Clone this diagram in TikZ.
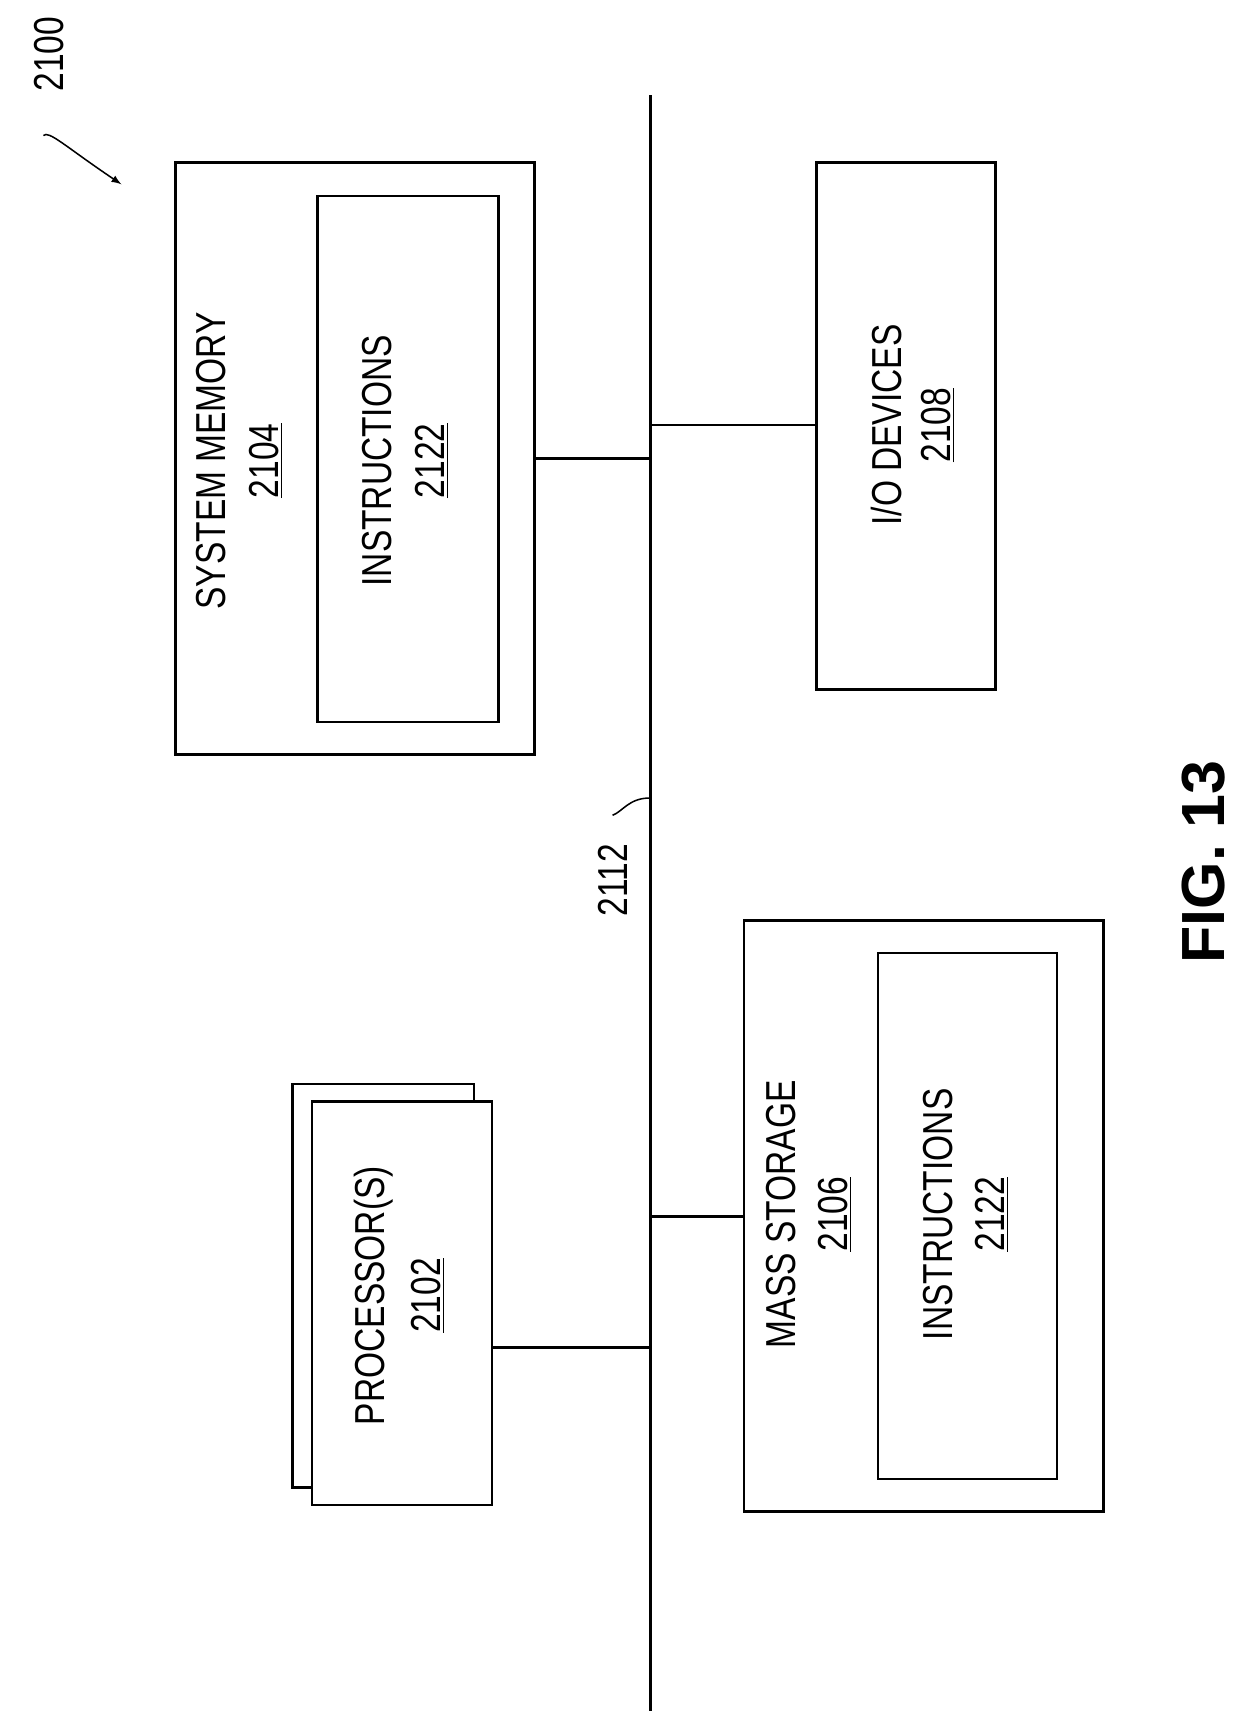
\documentclass[tikz,border=0pt]{standalone}
\usepackage{fontspec}
\setmainfont{Liberation Sans}
\begin{document}
\begin{tikzpicture}[x=0.02cm,y=-0.02cm,line width=1.3pt,
  box/.style={draw,rectangle,fill=white},
  lbl/.style={rotate=90,font=\fontsize{22}{26}\selectfont,inner sep=0pt}]
\useasboundingbox (0,0) rectangle (1160,1580);
\newcommand{\nt}[1]{\scalebox{0.8}[1]{#1}}
% bus
\coordinate (bt) at (600,88); \coordinate (bb) at (600,1578);
\draw (bt) -- (bb);
% system memory
\draw[box] (162,150) rectangle (493,696);
\draw[box] (293,181) rectangle (460,666);
\node[lbl] (sm) at (195,425) {\nt{SYSTEM MEMORY}};
\node[lbl] (smn) at (245,425) {\nt{\underline{2104}}};
\node[lbl] (i1) at (348,425) {\nt{INSTRUCTIONS}};
\node[lbl] (i1n) at (398,425) {\nt{\underline{2122}}};
\coordinate (m1) at (493,423); \coordinate (m2) at (600,423);
\draw (m1) -- (m2);
% io
\draw[box] (753,150) rectangle (918,636);
\node[lbl] (io) at (818,392) {\nt{I/O DEVICES}};
\node[lbl] (ion) at (865,392) {\nt{\underline{2108}}};
\coordinate (o1) at (600,392); \coordinate (o2) at (753,392);
\draw (o1) -- (o2);
% processor
\draw[box] (270,1000) rectangle (437,1372);
\draw[box] (288,1016) rectangle (454,1388);
\node[lbl] (p) at (345,1195) {\nt{PROCESSOR(S)}};
\node[lbl] (pn) at (395,1195) {\nt{\underline{2102}}};
\coordinate (p1) at (454,1243); \coordinate (p2) at (600,1243);
\draw (p1) -- (p2);
% mass storage
\draw[box] (686,849) rectangle (1018,1394);
\draw[box] (810,879) rectangle (975,1364);
\node[lbl] (ms) at (720,1120) {\nt{MASS STORAGE}};
\node[lbl] (msn) at (770,1120) {\nt{\underline{2106}}};
\node[lbl] (i2) at (865,1120) {\nt{INSTRUCTIONS}};
\node[lbl] (i2n) at (915,1120) {\nt{\underline{2122}}};
\coordinate (s1) at (600,1122); \coordinate (s2) at (686,1122);
\draw (s1) -- (s2);
% labels
\node[lbl] (l2112) at (565,812) {\nt{2112}};
\coordinate (c1) at (600,736);
\draw[line width=0.8pt] (565,752) .. controls (575,748) and (580,736) .. (c1);
\node[lbl] (l2100) at (45,50) {\nt{2100}};
\coordinate (a1) at (112,170);
\draw[line width=0.8pt,-latex] (40,125) .. controls (45,120) and (60,135) .. (a1);
\node[rotate=90,font=\bfseries\fontsize{32}{36}\selectfont,inner sep=0pt] (fig) at (1110,795) {FIG. 13};
\end{tikzpicture}
\end{document}
